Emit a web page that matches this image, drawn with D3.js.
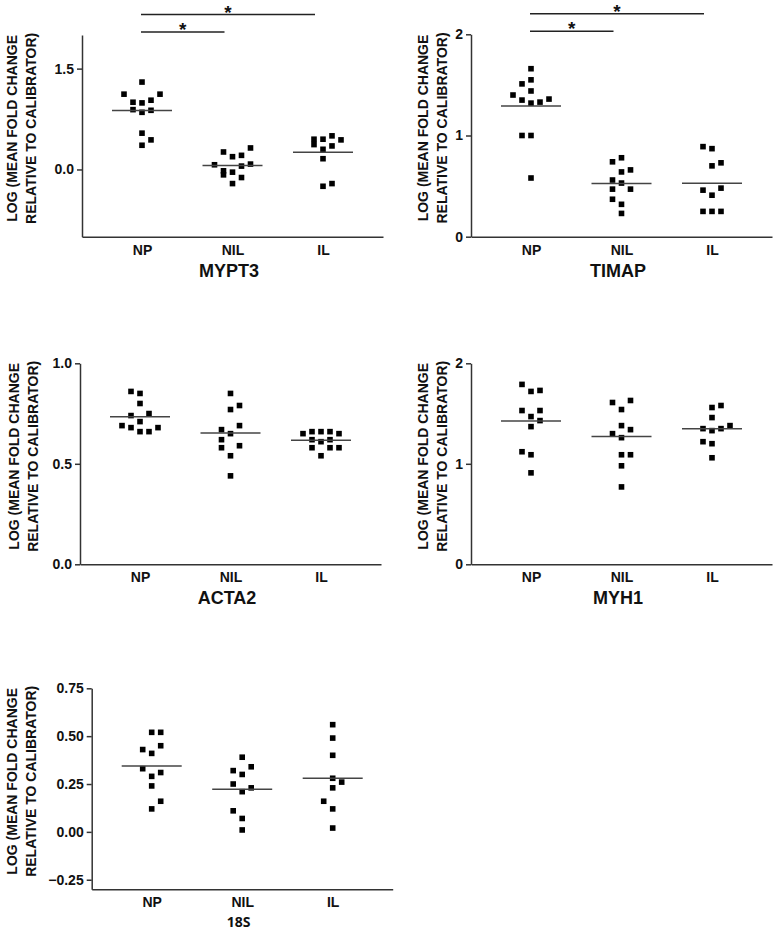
<!DOCTYPE html>
<html><head><meta charset="utf-8">
<script src="https://cdn.jsdelivr.net/npm/d3@7"></script>
<style>body{margin:0;background:#fff}</style>
</head><body>
<svg id="chart" width="774" height="931"></svg>
<script>
// ---------------- DATA ----------------
const groups = ["NP", "NIL", "IL"];
const genes = ["MYPT3", "TIMAP", "ACTA2", "MYH1", "18S"];

// values (log mean fold change) and dot-plot spread slots
const mypt3NP = [1.30, 1.12, 1.12, 1.03, 1.00, 0.99, 0.89, 0.88, 0.85, 0.54, 0.44, 0.36];
const mypt3NPSlot = [0, -2, 2, 1, -1, 0, -1, 1, 0, 0, 1, 0];
const mypt3NIL = [0.32, 0.26, 0.21, 0.19, 0.08, 0.07, 0.05, -0.02, -0.04, -0.08, -0.12, -0.21];
const mypt3NILSlot = [2, -1, 1, 0, 2, -2, 1, -1, 0, -1, 1, 0];
const mypt3IL = [0.50, 0.45, 0.45, 0.44, 0.37, 0.35, 0.30, 0.16, -0.21, -0.25];
const mypt3ILSlot = [1, -1, 0, 2, -1, 1, 0, 0, 1, 0];

const timapNP = [1.66, 1.55, 1.51, 1.44, 1.40, 1.36, 1.35, 1.33, 1.32, 1.00, 1.00, 0.58];
const timapNPSlot = [0, 0, -1, 0, -2, 2, -1, 1, 0, -1, 0, 0];
const timapNIL = [0.78, 0.74, 0.66, 0.64, 0.56, 0.53, 0.47, 0.47, 0.37, 0.32, 0.23];
const timapNILSlot = [0, -1, 1, 0, -1, 0, -1, 1, -1, 0, 0];
const timapIL = [0.89, 0.87, 0.73, 0.70, 0.48, 0.46, 0.41, 0.25, 0.25, 0.25];
const timapILSlot = [-1, 0, 1, 0, 1, -1, 0, -1, 0, 1];

const acta2NP = [0.86, 0.85, 0.80, 0.75, 0.74, 0.71, 0.69, 0.68, 0.68, 0.66, 0.66];
const acta2NPSlot = [-1, 0, 0, 1, -1, 0, -2, 2, -1, 0, 1];
const acta2NIL = [0.85, 0.79, 0.77, 0.69, 0.67, 0.65, 0.62, 0.59, 0.58, 0.54, 0.44];
const acta2NILSlot = [0, 1, 0, 1, -1, 0, -1, 1, -1, 0, 0];
const acta2IL = [0.66, 0.66, 0.66, 0.65, 0.65, 0.62, 0.62, 0.61, 0.58, 0.58, 0.58, 0.54];
const acta2ILSlot = [-1, 1, 0, -2, 2, -1, 1, 0, 2, -1, 1, 0];

const myh1NP = [1.79, 1.73, 1.72, 1.53, 1.53, 1.47, 1.43, 1.37, 1.12, 1.09, 0.91];
const myh1NPSlot = [-1, 1, 0, 1, -1, 0, 1, 0, -1, 0, 0];
const myh1NIL = [1.63, 1.61, 1.54, 1.38, 1.34, 1.30, 1.26, 1.09, 1.09, 0.98, 0.77];
const myh1NILSlot = [1, -1, 0, 0, 1, -1, 0, 1, 0, 0, 0];
const myh1IL = [1.58, 1.56, 1.46, 1.38, 1.35, 1.35, 1.33, 1.22, 1.20, 1.06];
const myh1ILSlot = [1, 0, 0, 2, -1, 1, 0, -1, 0, 0];

const s18NP = [0.52, 0.52, 0.45, 0.43, 0.41, 0.33, 0.31, 0.29, 0.24, 0.16, 0.12];
const s18NPSlot = [0, 1, 1, -1, 0, -1, 1, 0, 0, 1, 0];
const s18NIL = [0.39, 0.34, 0.32, 0.30, 0.25, 0.23, 0.21, 0.11, 0.07, 0.01];
const s18NILSlot = [0, 1, -1, 0, -1, 1, 0, -1, 0, 0];
const s18IL = [0.56, 0.49, 0.40, 0.28, 0.26, 0.23, 0.16, 0.12, 0.02];
const s18ILSlot = [0, 0, 0, 0, 1, 0, -1, 0, 0];

// axis domains and tick labels
const mypt3Domain = [-1, 2], mypt3Ticks = [0, 1.5];
const timapDomain = [0, 2], timapTicks = [0, 1, 2];
const acta2Domain = [0, 1], acta2Ticks = [0, 0.5, 1];
const myh1Domain = [0, 2], myh1Ticks = [0, 1, 2];
const s18Domain = [-0.3, 0.75], s18Ticks = [-0.25, 0, 0.25, 0.5, 0.75];

// significance comparisons
const sigMYPT3 = [["NP", "NIL"], ["NP", "IL"]];
const sigTIMAP = [["NP", "NIL"], ["NP", "IL"]];

// ---------------- PANELS (library options built from data) ----------------
const panels = [
  {gene: genes[0], vals: [mypt3NP, mypt3NIL, mypt3IL], slots: [mypt3NPSlot, mypt3NILSlot, mypt3ILSlot],
   domain: mypt3Domain, ticks: mypt3Ticks, fmt: ".1f", sig: sigMYPT3,
   left: 82, top: 35, bottom: 236.7, t1: -70, t2: -51, geneFont: "Liberation Sans, Arial, sans-serif", geneSize: 18, geneDy: 40},
  {gene: genes[1], vals: [timapNP, timapNIL, timapIL], slots: [timapNPSlot, timapNILSlot, timapILSlot],
   domain: timapDomain, ticks: timapTicks, fmt: "d", sig: sigTIMAP,
   left: 471, top: 34.3, bottom: 236.7, t1: -48, t2: -29, geneFont: "Liberation Sans, Arial, sans-serif", geneSize: 18, geneDy: 40},
  {gene: genes[2], vals: [acta2NP, acta2NIL, acta2IL], slots: [acta2NPSlot, acta2NILSlot, acta2ILSlot],
   domain: acta2Domain, ticks: acta2Ticks, fmt: ".1f", sig: [],
   left: 80, top: 363.3, bottom: 564.3, t1: -66, t2: -47, geneFont: "Liberation Sans, Arial, sans-serif", geneSize: 18, geneDy: 40},
  {gene: genes[3], vals: [myh1NP, myh1NIL, myh1IL], slots: [myh1NPSlot, myh1NILSlot, myh1ILSlot],
   domain: myh1Domain, ticks: myh1Ticks, fmt: "d", sig: [],
   left: 471, top: 363.3, bottom: 564.3, t1: -48, t2: -29, geneFont: "Liberation Sans, Arial, sans-serif", geneSize: 18, geneDy: 40},
  {gene: genes[4], vals: [s18NP, s18NIL, s18IL], slots: [s18NPSlot, s18NILSlot, s18ILSlot],
   domain: s18Domain, ticks: s18Ticks, fmt: ".2f", sig: [],
   left: 91.7, top: 688.3, bottom: 889.3, t1: -80, t2: -61, geneFont: "Open Sans, sans-serif", geneSize: 14, geneDy: 38}
];

const svg = d3.select("#chart");
const FONT = "Liberation Sans, Arial, Helvetica, sans-serif";
const W = 301, MARK = 5.6, MEANW = 60;
const slotScale = d3.scaleLinear().domain([-1, 1]).range([-9, 9]);

panels.forEach(p => {
  const g = svg.append("g");
  const x = d3.scalePoint().domain(groups).range([p.left, p.left + W]).padding(0.663);
  const y = d3.scaleLinear().domain(p.domain).range([p.bottom, p.top]);

  // y axis
  const ya = g.append("g").attr("transform", `translate(${p.left},0)`)
    .call(d3.axisLeft(y).tickValues(p.ticks).tickFormat(d3.format(p.fmt)).tickSize(5).tickSizeOuter(0).tickPadding(3));
  ya.selectAll("path,line").attr("stroke", "#333").attr("stroke-width", 1.5);
  ya.selectAll("text").attr("font-family", FONT).attr("font-weight", "bold").attr("font-size", 14).attr("fill", "#111");

  // x axis
  const xa = g.append("g").attr("transform", `translate(0,${p.bottom})`)
    .call(d3.axisBottom(x).tickSize(0).tickSizeOuter(0).tickPadding(8));
  xa.select("path").attr("stroke", "#333").attr("stroke-width", 1.5);
  xa.selectAll("text").attr("font-family", FONT).attr("font-weight", "bold").attr("font-size", 14).attr("fill", "#111");

  // gene label
  g.append("text").attr("x", p.left + 147).attr("y", p.bottom + p.geneDy)
    .attr("text-anchor", "middle").attr("font-family", p.geneFont).attr("font-weight", "bold")
    .attr("font-size", p.geneSize).attr("fill", "#111").text(p.gene);

  // y title (two lines, rotated)
  const cy = (p.top + p.bottom) / 2 - 7.5;
  [["LOG (MEAN FOLD CHANGE", p.t1], ["RELATIVE TO CALIBRATOR)", p.t2]].forEach(([t, dx]) => {
    g.append("text").attr("transform", `translate(${p.left + dx + 5},${cy}) rotate(-90)`)
      .attr("text-anchor", "middle").attr("font-family", FONT).attr("font-weight", "bold")
      .attr("font-size", 14).attr("fill", "#111").text(t);
  });

  // points and mean lines
  groups.forEach((grp, gi) => {
    const vals = p.vals[gi], slots = p.slots[gi];
    const cx = x(grp);
    g.append("g").selectAll("rect").data(vals).join("rect")
      .attr("x", (d, i) => cx + slotScale(slots[i]) - MARK / 2)
      .attr("y", d => y(d) - MARK / 2)
      .attr("width", MARK).attr("height", MARK).attr("fill", "#000");
    const m = d3.mean(vals);
    g.append("line").attr("x1", cx - MEANW / 2).attr("x2", cx + MEANW / 2)
      .attr("y1", y(m)).attr("y2", y(m)).attr("stroke", "#444").attr("stroke-width", 1.5);
  });

  // significance bars
  p.sig.forEach(([a, b], i) => {
    const ly = p.top - 3 - i * 17.5;
    const x1 = x(a) - 1, x2 = x(b) - 8;
    g.append("line").attr("x1", x1).attr("x2", x2).attr("y1", ly).attr("y2", ly)
      .attr("stroke", "#222").attr("stroke-width", 1.5);
    g.append("text").attr("x", (x1 + x2) / 2).attr("y", ly + 4).attr("text-anchor", "middle")
      .attr("font-family", FONT).attr("font-weight", "bold").attr("font-size", 19).attr("fill", "#111").text("*");
  });
});
</script>
</body></html>
